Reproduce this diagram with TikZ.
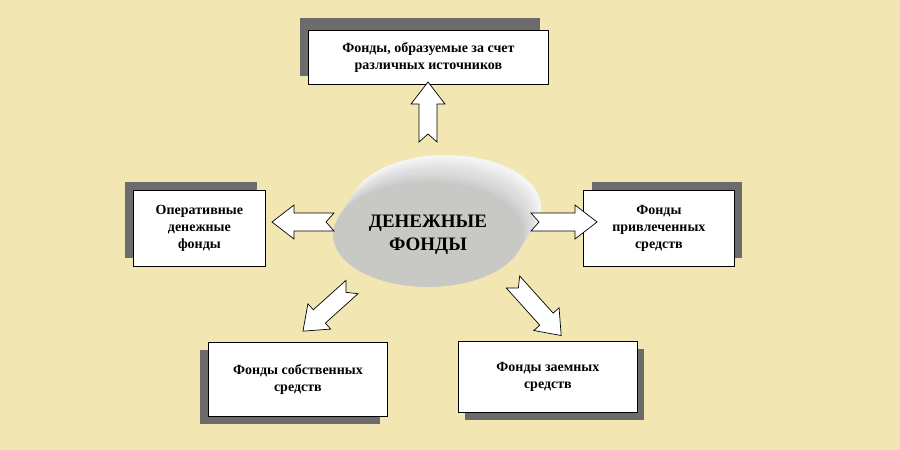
\documentclass[tikz,border=0pt]{standalone}
\usepackage{fontspec}
\setmainfont{Liberation Serif}
\usetikzlibrary{shapes.geometric}
\begin{document}
\begin{tikzpicture}[x=1pt,y=-1pt,
  box/.style={draw=black,fill=white,line width=0.8pt,align=center,font=\bfseries\fontsize{14}{17}\selectfont,inner sep=2pt},
  shadowsty/.style={fill=gray!85!black,draw=none},
  arrowsty/.style={draw=black,fill=white,line width=0.7pt,line join=miter}]
\fill[fill={rgb,255:red,242;green,231;blue,178}] (0,0) rectangle (900,450);
\useasboundingbox (0,0) rectangle (900,450);
\newcommand\barrow[4]{\begin{scope}[shift={(#1,#2)},rotate=#3]
 \draw[arrowsty] (0,-9)--(#4-22,-9)--(#4-22,-17)--(#4,0)--(#4-22,17)--(#4-22,9)--(0,9)--(8,0)--cycle;
\end{scope}}
% boxes with shadows
\fill[shadowsty] (300,18) rectangle (540,76);
\node[box,minimum width=240,minimum height=54,anchor=north west] (top) at (308,30) {Фонды, образуемые за счет\\различных источников};
\fill[shadowsty] (125,182) rectangle (257,258);
\node[box,minimum width=132,minimum height=76,anchor=north west] (left) at (133,190) {Оперативные\\денежные\\фонды};
\fill[shadowsty] (592,182) rectangle (742,258);
\node[box,minimum width=151,minimum height=76,anchor=north west] (right) at (583,190) {Фонды\\привлеченных\\средств};
\fill[shadowsty] (200,350) rectangle (380,424);
\node[box,minimum width=179,minimum height=74,anchor=north west] (bl) at (208,342) {Фонды собственных\\средств};
\fill[shadowsty] (465,349) rectangle (644,420);
\node[box,minimum width=179,minimum height=71,anchor=north west] (br) at (458,341) {Фонды заемных\\средств};
% ellipse 3D
\foreach \t in {1.0,0.95,...,0.0}{
  \pgfmathtruncatemacro\g{4+18*(1-\t)}
  \fill[black!\g] ({428+18*\t},{235-28*\t}) ellipse [x radius=95,y radius=52];
}
\node[ellipse,fill={rgb,255:red,200;green,200;blue,196},minimum width=190,minimum height=104,font=\bfseries\fontsize{19}{23}\selectfont,align=center,inner sep=0pt] (c) at (428,235) {ДЕНЕЖНЫЕ\\ФОНДЫ};
% arrows
\barrow{428}{142}{90}{60}
\barrow{334}{222}{180}{62}
\barrow{531}{222}{0}{66}
\barrow{352}{287}{222}{66}
\barrow{513}{282}{-48}{72}
\end{tikzpicture}
\end{document}
